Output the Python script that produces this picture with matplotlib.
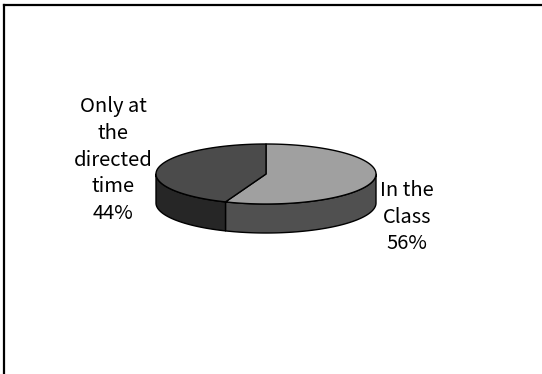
import numpy as np
import matplotlib.pyplot as plt
from matplotlib.patches import Polygon

labels = ["In the\nClass", "Only at\nthe\ndirected\ntime"]
values = [56, 44]
top_colors = ["#a0a0a0", "#4b4b4b"]
side_colors = ["#505050", "#262626"]

plt.rcParams['font.family'] = ['Noto Sans CJK JP', 'DejaVu Sans']

fig = plt.figure(figsize=(5.42, 3.74), dpi=100)
ax = fig.add_axes([0, 0, 1, 1])
ax.set_xlim(0, 542)
ax.set_ylim(374, 0)
ax.axis("off")

# outer frame (only top and left edges show)
ax.plot([3.5, 542], [4.5, 4.5], color="black", lw=1.6)
ax.plot([3.5, 3.5], [4.5, 374], color="black", lw=1.6)

# ellipse geometry of the tilted pie
cx, cy = 266, 174
rx, ry = 110, 30
depth = 29


def pt(theta, dy=0):
    t = np.radians(theta)
    return cx + rx * np.cos(t), cy - ry * np.sin(t) + dy


def arc(a, b, dy=0, n=200):
    th = np.linspace(a, b, n)
    return [pt(t, dy) for t in th]


total = sum(values)
angles = []
start = 90.0
for v in values:
    end = start - 360.0 * v / total  # clockwise from 12 o'clock
    angles.append((start, end))
    start = end

# side walls: only the front half (-180..0 deg) is visible
for (a, b), col in zip(angles, side_colors):
    hi, lo = max(a, b), min(a, b)
    for shift in (0, -360, 360):
        s_hi, s_lo = min(hi + shift, 0), max(lo + shift, -180)
        if s_hi > s_lo:
            top = arc(s_hi, s_lo)
            bot = arc(s_lo, s_hi, depth)
            ax.add_patch(Polygon(top + bot, closed=True, facecolor=col,
                                 edgecolor="black", lw=1, joinstyle="round"))

# top faces
for (a, b), col in zip(angles, top_colors):
    poly = [(cx, cy)] + arc(a, b)
    ax.add_patch(Polygon(poly, closed=True, facecolor=col,
                         edgecolor="black", lw=1, joinstyle="round"))

# data labels
label_pos = [(407, 217), (113, 160)]
for lab, v, (lx, ly) in zip(labels, values, label_pos):
    ax.text(lx, ly, f"{lab}\n{v}%", ha="center", va="center",
            fontsize=14.5, linespacing=1.35, color="black")

fig.savefig("out.png", dpi=100)
